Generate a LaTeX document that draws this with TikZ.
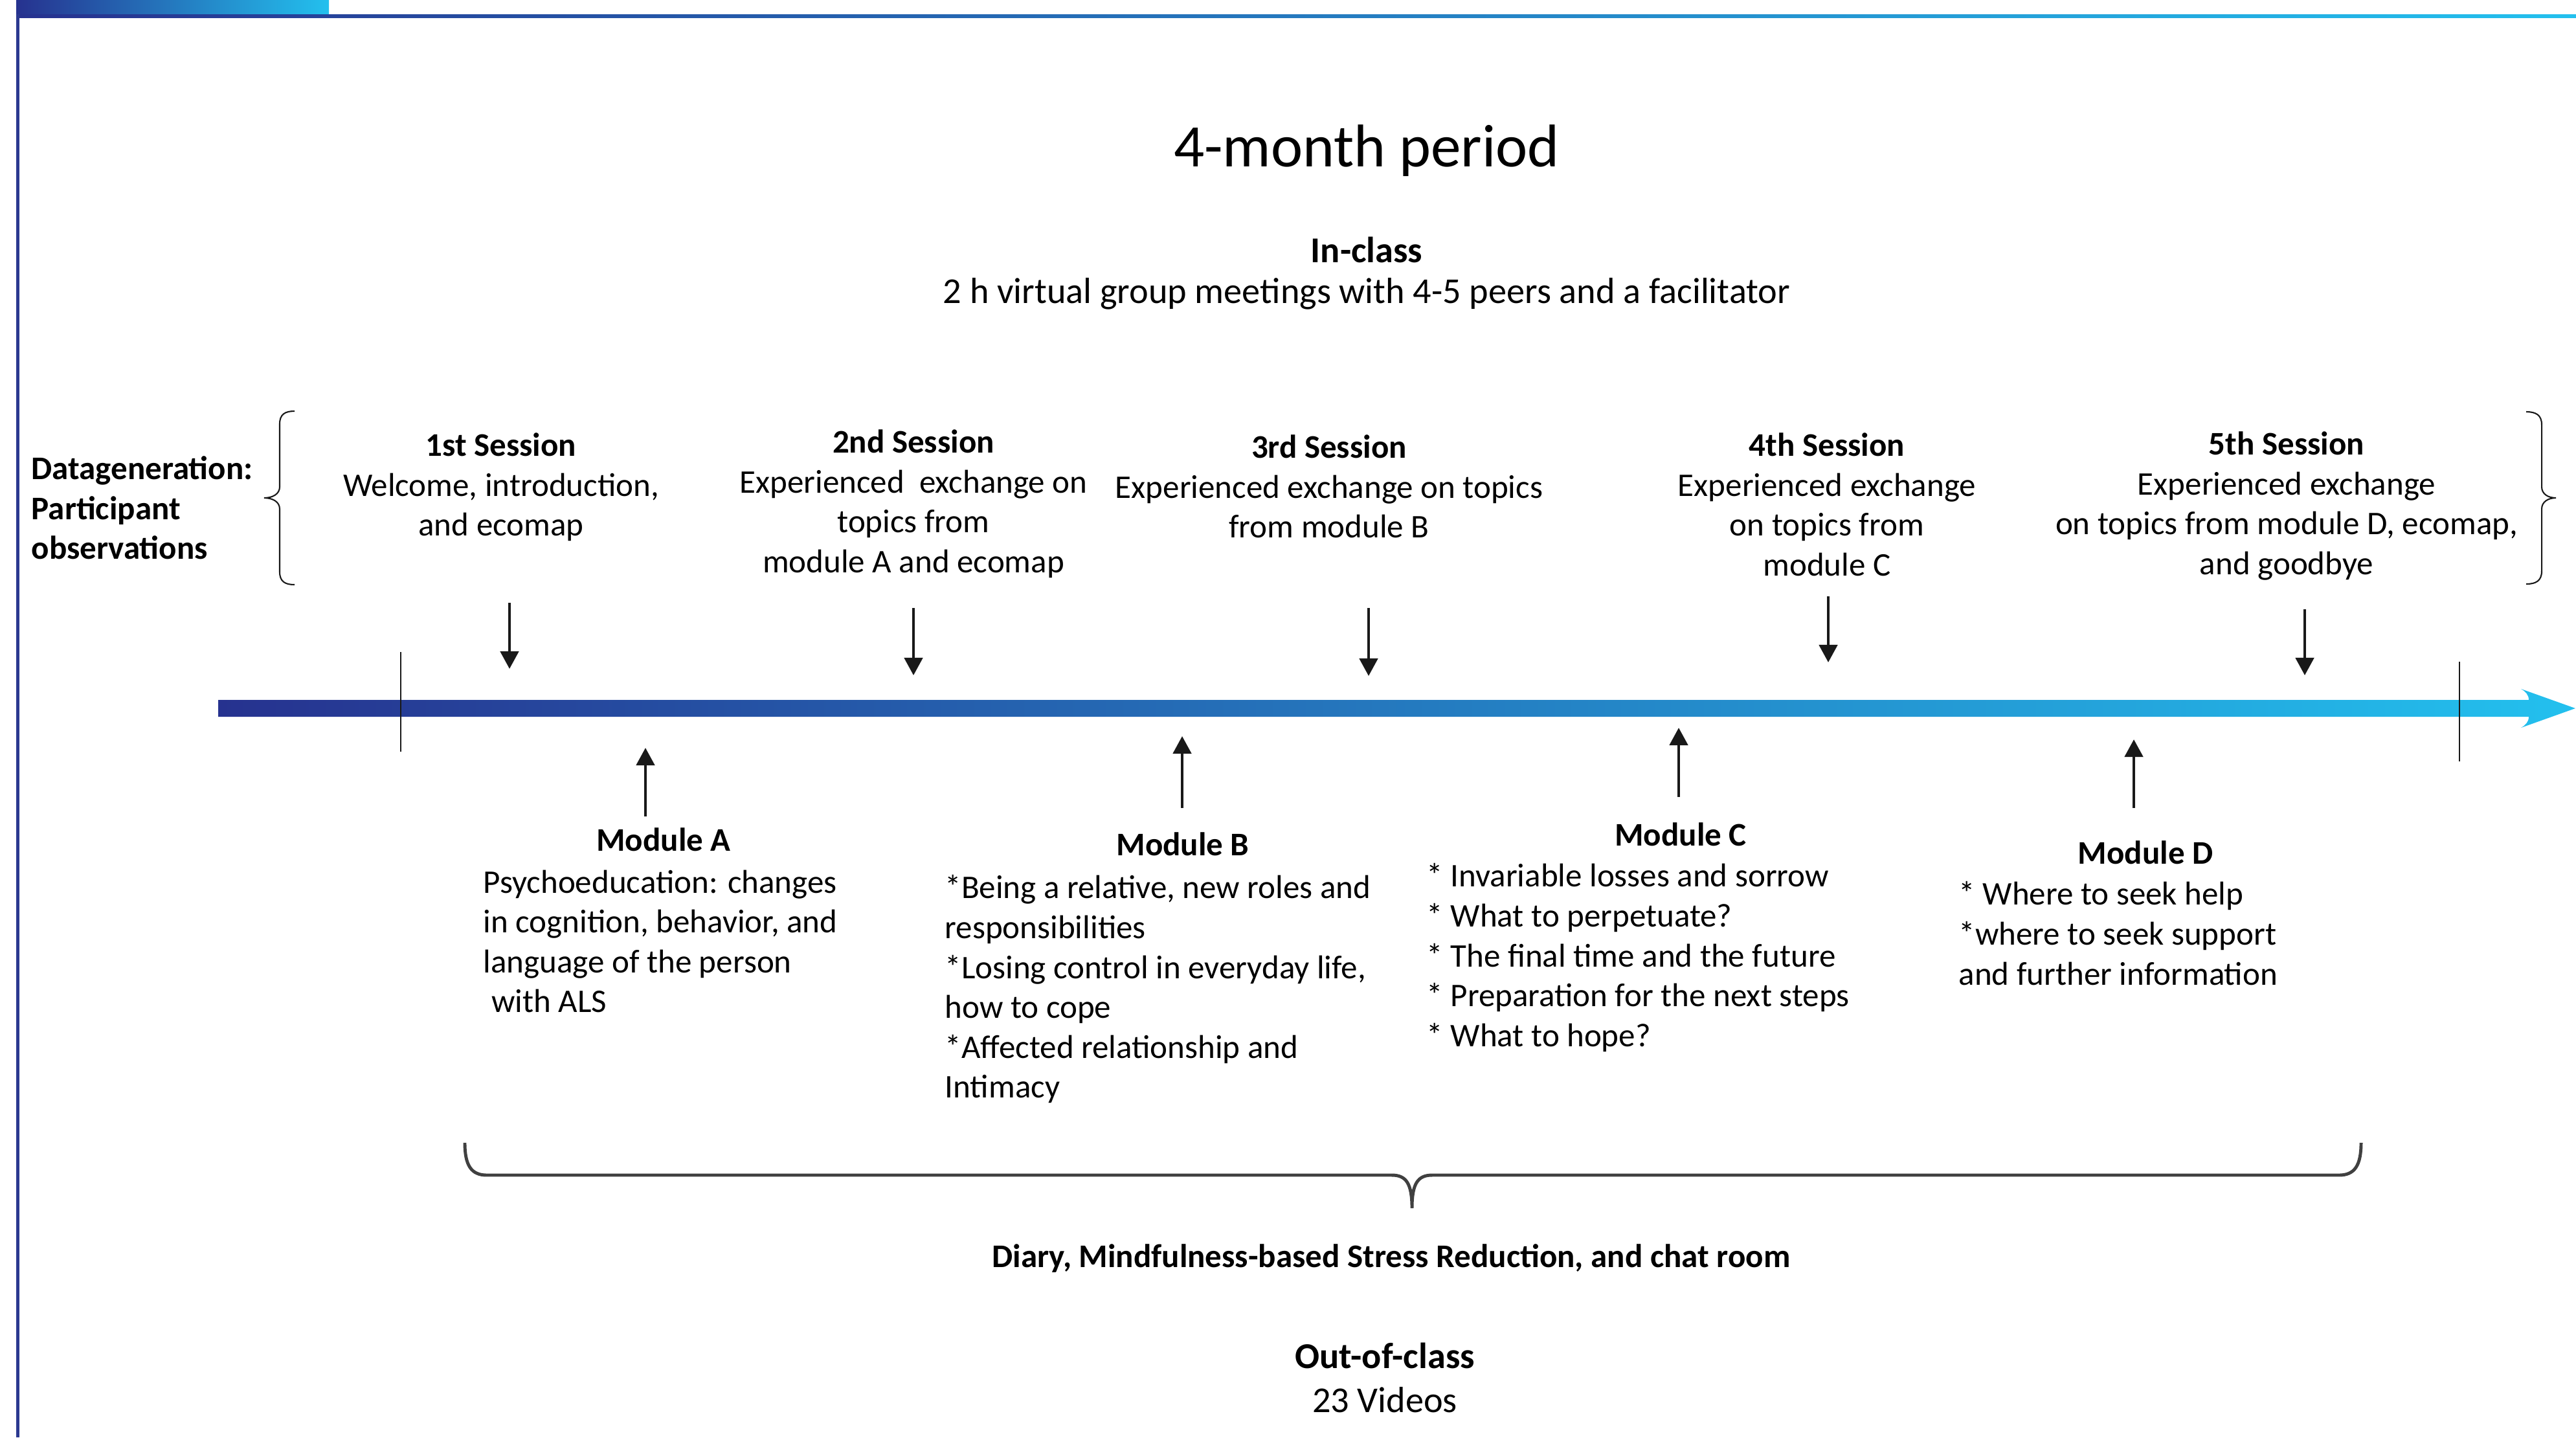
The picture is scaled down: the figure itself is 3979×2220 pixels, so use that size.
\documentclass[tikz,border=0pt]{standalone}
\usepackage{fontspec}
\setmainfont{Carlito}
\usetikzlibrary{arrows.meta}
\definecolor{tlblue}{RGB}{38,50,143}
\definecolor{tlcyan}{RGB}{35,192,238}
\definecolor{frameblue}{RGB}{43,57,144}
\definecolor{bracegray}{RGB}{64,64,64}
\begin{document}
\begin{tikzpicture}[x=0.01cm,y=-0.01cm]
 \tikzset{txt/.style={font=\fontsize{14.5}{17.5}\selectfont, inner sep=0pt}}
 \tikzset{bigtxt/.style={font=\fontsize{16}{19}\selectfont, inner sep=0pt}}
 \tikzset{session/.style={txt, align=center, anchor=north}}
 \tikzset{modtext/.style={txt, align=left, anchor=north west}}
 \tikzset{pointer/.style={-{Triangle[length=7.7pt,width=8pt]}, line width=1.3pt, black!90}}
 \tikzset{tick/.style={line width=0.6pt, black!90}}
 \tikzset{sidebrace/.style={line width=0.6pt, black!90}}
 \tikzset{bottombrace/.style={line width=1.4pt, bracegray}}
  \useasboundingbox (0,0) rectangle (3979,2220);
  % frame
  \shade[left color=tlblue, right color=tlcyan] (25,0) rectangle (508,22);
  \shade[left color=tlblue, right color=tlcyan] (25,22) rectangle (3979,27);
  \fill[frameblue] (25,22) rectangle (30,2220);
  % header
  \node[font=\fontsize{26.5}{32}\selectfont] (period) at (2111,233) {4-month period};
  \node[bigtxt] (inclass) at (2111,386) {\textbf{In-class}};
  \node[bigtxt] (meetings) at (2111,454) {2 h virtual group meetings with 4-5 peers and a facilitator};
  % timeline
  \shade[left color=tlblue, right color=tlcyan]
    (337,1081) -- (3906,1081) .. controls (3906,1073) and (3901,1068) .. (3894,1064)
    -- (3978,1094) -- (3894,1124) .. controls (3901,1120) and (3906,1115) .. (3906,1107)
    -- (337,1107) -- cycle;
  \draw[tick] (619,1007) -- (619,1161);
  \draw[tick] (3799,1022) -- (3799,1176);
  % sessions
  \node[txt, align=left, anchor=north west] (datagen) at (48,704)
    {\textbf{Datageneration:}\\\textbf{Participant}\\\textbf{observations}};
  \draw[sidebrace] (455,635) .. controls (440,635) and (432,640) .. (432,655) -- (432,752)
    .. controls (432,763) and (421,769) .. (408,769) .. controls (421,769) and (432,775) .. (432,786)
    -- (432,883) .. controls (432,898) and (440,903) .. (455,903);
  \draw[sidebrace] (3902,636) .. controls (3917,636) and (3926,641) .. (3926,656) -- (3926,752)
    .. controls (3926,763) and (3936,769) .. (3948,769) .. controls (3936,769) and (3926,775) .. (3926,786)
    -- (3926,882) .. controls (3926,897) and (3917,902) .. (3902,902);
  \node[session] (s1) at (774,668) {\textbf{1st Session}\\Welcome, introduction,\\and ecomap};
  \node[session] (s2) at (1411,663) {\textbf{2nd Session}\\Experienced\ \ exchange on\\topics from\\module A and ecomap};
  \node[session] (s3) at (2053,671) {\textbf{3rd Session}\\Experienced exchange on topics\\from module B};
  \node[session] (s4) at (2822,668) {\textbf{4th Session}\\Experienced exchange\\on topics from\\module C};
  \node[session] (s5) at (3532,666) {\textbf{5th Session}\\Experienced exchange\\on topics from module D, ecomap,\\and goodbye};
  \coordinate (s1a) at (787,931);  \coordinate (s1b) at (787,1033);
  \coordinate (s2a) at (1411,939); \coordinate (s2b) at (1411,1043);
  \coordinate (s3a) at (2114,939); \coordinate (s3b) at (2114,1044);
  \coordinate (s4a) at (2824,921); \coordinate (s4b) at (2824,1023);
  \coordinate (s5a) at (3560,941); \coordinate (s5b) at (3560,1043);
  \draw[pointer] (s1a) -- (s1b);
  \draw[pointer] (s2a) -- (s2b);
  \draw[pointer] (s3a) -- (s3b);
  \draw[pointer] (s4a) -- (s4b);
  \draw[pointer] (s5a) -- (s5b);
  % modules
  \node[txt] (modA) at (1025,1297) {\textbf{Module A}};
  \node[modtext] (modAtext) at (746,1343)
    {Psychoeducation: changes\\in cognition, behavior, and\\language of the person\\\hspace*{3.5pt}with ALS};
  \node[txt] (modB) at (1827,1304) {\textbf{Module B}};
  \node[modtext] (modBtext) at (1459,1351)
    {*Being a relative, new roles and\\responsibilities\\*Losing control in everyday life,\\how to cope\\*Affected relationship and\\Intimacy};
  \node[txt] (modC) at (2596,1289) {\textbf{Module C}};
  \node[modtext] (modCtext) at (2203,1333)
    {* Invariable losses and sorrow\\* What to perpetuate?\\* The final time and the future\\* Preparation for the next steps\\* What to hope?};
  \node[txt] (modD) at (3314,1317) {\textbf{Module D}};
  \node[modtext] (modDtext) at (3025,1361)
    {* Where to seek help\\*where to seek support\\and further information};
  \coordinate (mAa) at (997,1261);  \coordinate (mAb) at (997,1155);
  \coordinate (mBa) at (1826,1248); \coordinate (mBb) at (1826,1137);
  \coordinate (mCa) at (2593,1231); \coordinate (mCb) at (2593,1124);
  \coordinate (mDa) at (3296,1248); \coordinate (mDb) at (3296,1142);
  \draw[pointer] (mAa) -- (mAb);
  \draw[pointer] (mBa) -- (mBb);
  \draw[pointer] (mCa) -- (mCb);
  \draw[pointer] (mDa) -- (mDb);
  % out-of-class
  \draw[bottombrace] (718,1765) .. controls (718,1800) and (728,1815) .. (752,1815) -- (2150,1815)
    .. controls (2172,1815) and (2181,1828) .. (2181,1866) .. controls (2181,1828) and (2190,1815) .. (2212,1815)
    -- (3613,1815) .. controls (3637,1815) and (3647,1800) .. (3647,1765);
  \node[txt] (diary) at (2149,1944) {\textbf{Diary, Mindfulness-based Stress Reduction, and chat room}};
  \node[bigtxt] (outclass) at (2139,2094) {\textbf{Out-of-class}};
  \node[bigtxt] (videos) at (2139,2162) {23 Videos};
\end{tikzpicture}
\end{document}
